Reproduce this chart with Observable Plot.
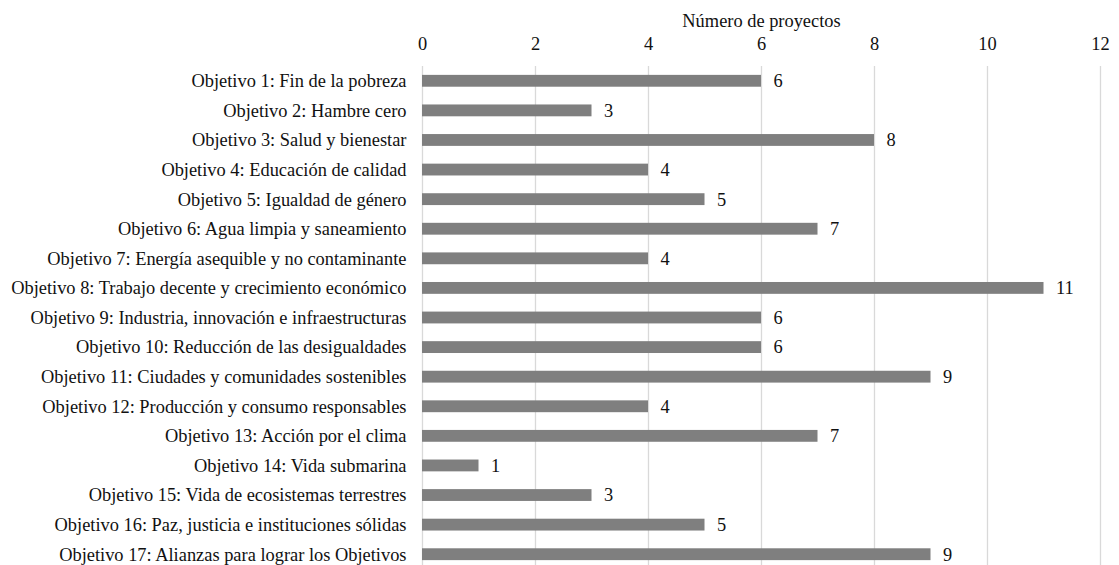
<!DOCTYPE html>
<html>
<head>
<meta charset="utf-8">
<script src="https://cdn.jsdelivr.net/npm/d3@7"></script>
<script src="https://cdn.jsdelivr.net/npm/@observablehq/plot@0.6"></script>
<style>
  html, body { margin: 0; padding: 0; background: #fff; }
  #chart svg { display: block; }
</style>
</head>
<body>
<div id="chart"></div>
<script>
const objetivos = [
  "Objetivo 1: Fin de la pobreza",
  "Objetivo 2: Hambre cero",
  "Objetivo 3: Salud y bienestar",
  "Objetivo 4: Educación de calidad",
  "Objetivo 5: Igualdad de género",
  "Objetivo 6: Agua limpia y saneamiento",
  "Objetivo 7: Energía asequible y no contaminante",
  "Objetivo 8: Trabajo decente y crecimiento económico",
  "Objetivo 9: Industria, innovación e infraestructuras",
  "Objetivo 10: Reducción de las desigualdades",
  "Objetivo 11: Ciudades y comunidades sostenibles",
  "Objetivo 12: Producción y consumo responsables",
  "Objetivo 13: Acción por el clima",
  "Objetivo 14: Vida submarina",
  "Objetivo 15: Vida de ecosistemas terrestres",
  "Objetivo 16: Paz, justicia e instituciones sólidas",
  "Objetivo 17: Alianzas para lograr los Objetivos"
];
const proyectos = [6, 3, 8, 4, 5, 7, 4, 11, 6, 6, 9, 4, 7, 1, 3, 5, 9];
const xTicks = [0, 2, 4, 6, 8, 10, 12];
const xTitle = "Número de proyectos";

const FONT = "Liberation Serif";
const FS = 18.4;
const data = objetivos.map((o, i) => ({objetivo: o, valor: proyectos[i]}));

const chart = Plot.plot({
  width: 1119,
  height: 565,
  marginLeft: 422,
  marginRight: 19,
  marginTop: 66,
  marginBottom: 0,
  style: {fontFamily: FONT, fontSize: FS + "px", color: "#111", background: "#fff"},
  x: {domain: [0, 12]},
  y: {domain: objetivos, paddingInner: 0.6, paddingOuter: 0.3, range: [66, 569], round: false},
  marks: [
    Plot.gridX(xTicks, {stroke: "#d9d9d9", strokeOpacity: 1, strokeWidth: 1.3}),
    Plot.barX(data, {x: "valor", y: "objetivo", fill: "#7f7f7f"}),
    Plot.text(data, {x: "valor", y: "objetivo", text: d => String(d.valor), textAnchor: "start", dx: 12, fill: "#111", fontSize: FS, fontFamily: FONT}),
    Plot.axisX({anchor: "top", ticks: xTicks, tickSize: 0, tickPadding: 17, label: xTitle, labelAnchor: "center", labelArrow: "none", labelOffset: 53, fontSize: FS, fontFamily: FONT}),
    Plot.axisY({tickSize: 0, tickPadding: 16, label: null, fontSize: FS, fontFamily: FONT})
  ]
});
document.getElementById("chart").appendChild(chart);
</script>
</body>
</html>
